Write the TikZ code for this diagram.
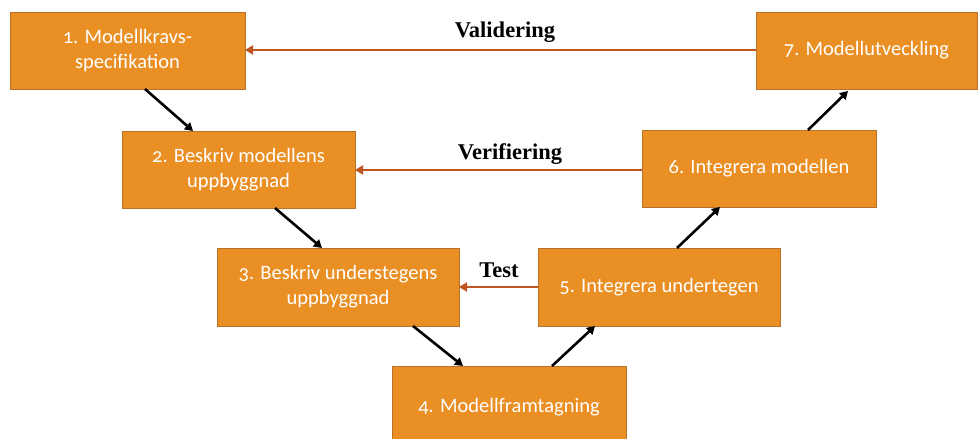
\documentclass[tikz,border=0pt]{standalone}
\usepackage{fontspec}
\setmainfont{Liberation Serif}
\newfontfamily\boxfont[Numbers=OldStyle]{Carlito}
\usetikzlibrary{arrows.meta}
\definecolor{stepfill}{HTML}{EA8F24}
\definecolor{stepedge}{HTML}{B8732A}
\definecolor{loopline}{HTML}{C0561F}
\tikzset{
  stepbox/.style={draw=stepedge, line width=1pt, fill=stepfill, inner sep=0pt,
    text=white, align=center, font=\boxfont\fontsize{20.5}{25}\selectfont},
  flow/.style={line width=2.6pt, -{Triangle[length=8pt,width=9pt]}, black},
  loop/.style={line width=2.8pt, loopline, -{Triangle[length=8pt,width=9pt]}},
  looplabel/.style={font=\bfseries\fontsize{22.5}{24}\selectfont, text=black}
}
\begin{document}
\begin{tikzpicture}[x=1pt,y=-1pt]
\useasboundingbox[fill=white] (0,0) rectangle (978,439);
\begin{scope}
\clip (0,0) rectangle (978,439);
% the seven V-model steps (corner to corner)
\draw[stepbox] (10,12) rectangle (245,89) node[pos=.5] (s1) {1. Modellkravs-\\specifikation};
\draw[stepbox] (122,131) rectangle (355,208) node[pos=.5] (s2) {2. Beskriv modellens\\uppbyggnad};
\draw[stepbox] (217,248) rectangle (459,326) node[pos=.5] (s3) {3. Beskriv understegens\\uppbyggnad};
\draw[stepbox] (392,366) rectangle (626,448);
\node[stepbox, draw=none, fill=none] (s4) at (509,407) {4. Modellframtagning};
\draw[stepbox] (538,248) rectangle (780,326) node[pos=.5] (s5) {5. Integrera undertegen};
\draw[stepbox] (642,130) rectangle (876,207) node[pos=.5] (s6) {6. Integrera modellen};
\draw[stepbox] (756,12) rectangle (977,89) node[pos=.5] (s7) {7. Modellutveckling};
\end{scope}
% anchor points on the box edges
\coordinate (a1) at (145,89);  \coordinate (b2) at (193,131);
\coordinate (a2) at (275,208); \coordinate (b3) at (322,248);
\coordinate (a3) at (413,326); \coordinate (b4) at (463,366);
\coordinate (a4) at (552,366); \coordinate (b5) at (595,326);
\coordinate (a5) at (677,248); \coordinate (b6) at (720,207);
\coordinate (a6) at (808,130); \coordinate (b7) at (848,91);
\draw[flow] (a1) -- (b2);
\draw[flow] (a2) -- (b3);
\draw[flow] (a3) -- (b4);
\draw[flow] (a4) -- (b5);
\draw[flow] (a5) -- (b6);
\draw[flow] (a6) -- (b7);
% feedback arrows
\coordinate (v7) at (756,50);  \coordinate (v1) at (245,50);
\coordinate (f6) at (642,170); \coordinate (f2) at (355,170);
\coordinate (t5) at (538,287); \coordinate (t3) at (459,287);
\draw[loop] (v7) -- (v1);
\draw[loop] (f6) -- (f2);
\draw[loop] (t5) -- (t3);
\node[looplabel] (lv) at (505,32) {Validering};
\node[looplabel] (lf) at (510,154) {Verifiering};
\node[looplabel] (lt) at (499,270) {Test};
\end{tikzpicture}
\end{document}
